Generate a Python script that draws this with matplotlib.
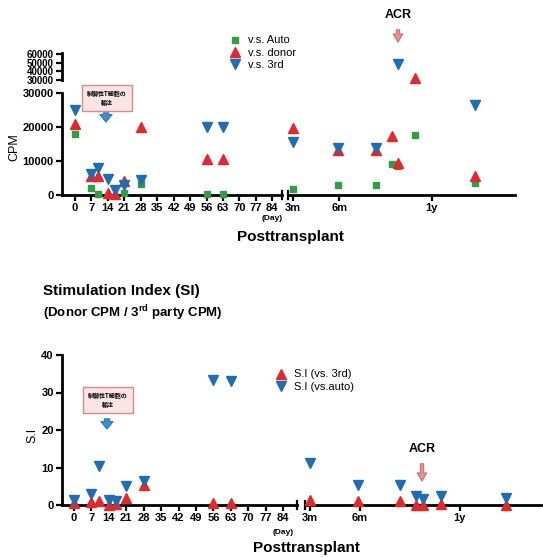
import numpy as np
import matplotlib
matplotlib.use("Agg")
import matplotlib.pyplot as plt
from matplotlib.lines import Line2D

plt.rcParams['font.family'] = ['Liberation Sans', 'DejaVu Sans']
plt.rcParams['mathtext.fontset'] = 'custom'
plt.rcParams['mathtext.rm'] = 'Liberation Sans'
plt.rcParams['mathtext.bf'] = 'Liberation Sans:bold'

# ---- data ----
day_x = [0, 7, 10, 14, 17, 21, 28, 56, 63]
month_x = [3, 5.9, 8.4, 9.4, 9.8, 10.9, 14.8]

cpm_auto_d = [18000, 2000, 300, np.nan, np.nan, 500, 3200, 300, 300]
cpm_donor_d = [21000, 5700, 5600, 600, 300, 4000, 20000, 10500, 10500]
cpm_3rd_d = [25000, 6200, 8000, 4800, 1500, 3000, 4500, 20000, 20000]

cpm_auto_m = [1800, 3000, 3000, 9000, 8500, 17600, 3600]
cpm_donor_m = [19800, 13300, 13300, 17500, 9300, 32000, 5600]
cpm_3rd_m = [15700, 13700, 13700, np.nan, 48000, np.nan, 26500]

si_3rd_d = [0.5, 0.8, 1.0, 0.0, 0.3, 1.9, 5.3, 0.6, 0.6]
si_auto_d = [1.3, 3.0, 10.4, 1.3, 1.0, 5.2, 6.4, 33.3, 33.0]
si_3rd_m = [1.3, 1.2, 1.2, 0.0, 0.0, 0.2, 0.0]
si_auto_m = [11.1, 5.3, 5.3, 2.3, 1.6, 2.3, 2.0]

day_ticks = list(range(0, 85, 7))
month_ticks = [3, 6, 12]
month_labels = ['3m', '6m', '1y']

GREEN = '#2f9e44'
RED = '#e5262b'
BLUE = '#1f6db4'
W, H = 543, 558


def box(x0, y0, x1, y1):
    return [x0 / W, 1 - y1 / H, (x1 - x0) / W, (y1 - y0) / H]


def px(x):
    return x / W


def py(y):
    return 1 - y / H


def style(ax, left=True, bottom=True, size=8):
    for s in ['top', 'right']:
        ax.spines[s].set_visible(False)
    ax.spines['left'].set_visible(left)
    ax.spines['bottom'].set_visible(bottom)
    for s in ['left', 'bottom']:
        ax.spines[s].set_linewidth(2)
    ax.tick_params(direction='out', length=4, width=1.6, labelsize=size, pad=2)
    if not left:
        ax.set_yticks([])
    if not bottom:
        ax.set_xticks([])
    ax.patch.set_alpha(0)
    for lab in ax.get_xticklabels() + ax.get_yticklabels():
        lab.set_fontweight('bold')


def pts(ax, x, y, marker, color, ms):
    ax.plot(x, y, linestyle='none', marker=marker, color=color, ms=ms, clip_on=False, zorder=3)


def arrow(x, y0, y1, fc, ec, hw=0.7, hl=0.6, tw=0.35):
    fig.add_artist(plt.Annotation('', xy=(px(x), py(y1)), xytext=(px(x), py(y0)),
                                  xycoords='figure fraction', textcoords='figure fraction',
                                  arrowprops=dict(arrowstyle=f'simple,head_width={hw},head_length={hl},tail_width={tw}',
                                                  fc=fc, ec=ec, lw=0.6)))


fig = plt.figure(figsize=(W / 100, H / 100), dpi=100)

# ---------------- top panel: CPM ----------------
ax_ll = fig.add_axes(box(62, 93, 282, 195))
ax_ul = fig.add_axes(box(62, 53, 282, 80))
ax_lr = fig.add_axes(box(288, 93, 515, 195))
ax_ur = fig.add_axes(box(288, 53, 515, 80))

for ax in [ax_ll, ax_ul]:
    ax.set_xlim(-5.5, 88.1)
for ax in [ax_lr, ax_ur]:
    ax.set_xlim(2.68, 17.4)
for ax in [ax_ll, ax_lr]:
    ax.set_ylim(0, 30000)
for ax in [ax_ul, ax_ur]:
    ax.set_ylim(30000, 61000)

ax_ll.set_xticks(day_ticks)
ax_ll.set_yticks([0, 10000, 20000, 30000])
ax_ul.set_yticks([30000, 40000, 50000, 60000])
ax_lr.set_xticks(month_ticks, month_labels)

style(ax_ll)
style(ax_ul, bottom=False, size=7)
style(ax_lr, left=False)
style(ax_ur, left=False, bottom=False)

for ax, xs, a, d, t in [(ax_ll, day_x, cpm_auto_d, cpm_donor_d, cpm_3rd_d),
                        (ax_lr, month_x, cpm_auto_m, cpm_donor_m, cpm_3rd_m),
                        (ax_ur, month_x, cpm_auto_m, cpm_donor_m, cpm_3rd_m)]:
    lo, hi = ax.get_ylim()
    sel = lambda v: [val if lo <= val <= hi else np.nan for val in v]
    pts(ax, xs, sel(a), 's', GREEN, 5)
    pts(ax, xs, sel(d), '^', RED, 6.5)
    pts(ax, xs, sel(t), 'v', BLUE, 6.5)

ax_ll.set_ylabel('CPM', fontsize=9)
ax_ll.yaxis.set_label_coords(-0.19, 0.47)

handles = [Line2D([], [], ls='none', marker='s', color=GREEN, ms=5),
           Line2D([], [], ls='none', marker='^', color=RED, ms=6.5),
           Line2D([], [], ls='none', marker='v', color=BLUE, ms=6.5)]
fig.legend(handles, ['v.s. Auto', 'v.s. donor', 'v.s. 3rd'], loc='upper left',
           bbox_to_anchor=(px(224), py(31)), frameon=False, fontsize=8,
           handletextpad=0.6, labelspacing=0.2, borderaxespad=0, handlelength=1.2)

# break marks on x axis
ax_ll.plot([1, 1], [-0.04, 0.04], color='k', lw=1.6, transform=ax_ll.transAxes, clip_on=False)
ax_lr.plot([0, 0], [-0.04, 0.04], color='k', lw=1.6, transform=ax_lr.transAxes, clip_on=False)

fig.text(px(272), py(218), '(Day)', fontsize=6, ha='center', va='center', weight='bold')
fig.text(px(290), py(237), 'Posttransplant', fontsize=11, ha='center', va='center', weight='bold')
fig.text(px(398), py(15), 'ACR', fontsize=9, ha='center', va='center', weight='bold')
arrow(398, 27, 45, '#e89090', '#c06060', tw=0.25)

jp_fonts = ['Noto Sans CJK JP', 'DejaVu Sans']
fig.text(px(107), py(98), '制御性T細胞の\n輸注', fontsize=4.3, ha='center', va='center',
         weight='bold', family=jp_fonts, linespacing=1.2,
         bbox=dict(boxstyle='square,pad=0.9', fc='#fbe4e4', ec='#d98a8a', lw=1))
arrow(106, 110, 125, '#3a8fd0', '#1f6db4', hw=0.9, hl=0.55, tw=0.4)

# ---------------- bottom panel: SI ----------------
fig.text(px(43), py(291), 'Stimulation Index (SI)', fontsize=11, ha='left', va='center', weight='bold')
fig.text(px(43), py(313), r'(Donor CPM / 3$^{\mathbf{rd}}$ party CPM)', fontsize=9.5,
         ha='left', va='center', weight='bold')

bx_l = fig.add_axes(box(62, 355, 297, 505))
bx_r = fig.add_axes(box(305, 355, 541, 505))
bx_l.set_xlim(-4.8, 89.6)
bx_r.set_xlim(2.7, 16.9)
bx_l.set_ylim(0, 40)
bx_r.set_ylim(0, 40)
bx_l.set_xticks(day_ticks)
bx_l.set_yticks([0, 10, 20, 30, 40])
bx_r.set_xticks(month_ticks, month_labels)
style(bx_l)
style(bx_r, left=False)

pts(bx_l, day_x, si_3rd_d, '^', RED, 6.5)
pts(bx_l, day_x, si_auto_d, 'v', BLUE, 6.5)
pts(bx_r, month_x, si_3rd_m, '^', RED, 6.5)
pts(bx_r, month_x, si_auto_m, 'v', BLUE, 6.5)

bx_l.set_ylabel('S.I', fontsize=9)
bx_l.yaxis.set_label_coords(-0.10, 0.467)

bx_l.plot([1, 1], [-0.027, 0.027], color='k', lw=1.6, transform=bx_l.transAxes, clip_on=False)
bx_r.plot([0, 0], [-0.027, 0.027], color='k', lw=1.6, transform=bx_r.transAxes, clip_on=False)

fig.legend(handles[1:], ['S.I (vs. 3rd)', 'S.I (vs.auto)'], loc='upper left',
           bbox_to_anchor=(px(270), py(365)), frameon=False, fontsize=8,
           handletextpad=0.6, labelspacing=0.2, borderaxespad=0, handlelength=1.2)

fig.text(px(283), py(533), '(Day)', fontsize=6, ha='center', va='center', weight='bold')
fig.text(px(306), py(548), 'Posttransplant', fontsize=11, ha='center', va='center', weight='bold')
fig.text(px(422), py(449), 'ACR', fontsize=9, ha='center', va='center', weight='bold')
arrow(422, 461, 484, '#e89090', '#c06060', tw=0.25)

fig.text(px(108), py(400), '制御性T細胞の\n輸注', fontsize=4.3, ha='center', va='center',
         weight='bold', family=jp_fonts, linespacing=1.2,
         bbox=dict(boxstyle='square,pad=0.9', fc='#fbe4e4', ec='#d98a8a', lw=1))
arrow(107, 416, 432, '#3a8fd0', '#1f6db4', hw=0.9, hl=0.55, tw=0.4)

fig.savefig('out.png', dpi=100)
